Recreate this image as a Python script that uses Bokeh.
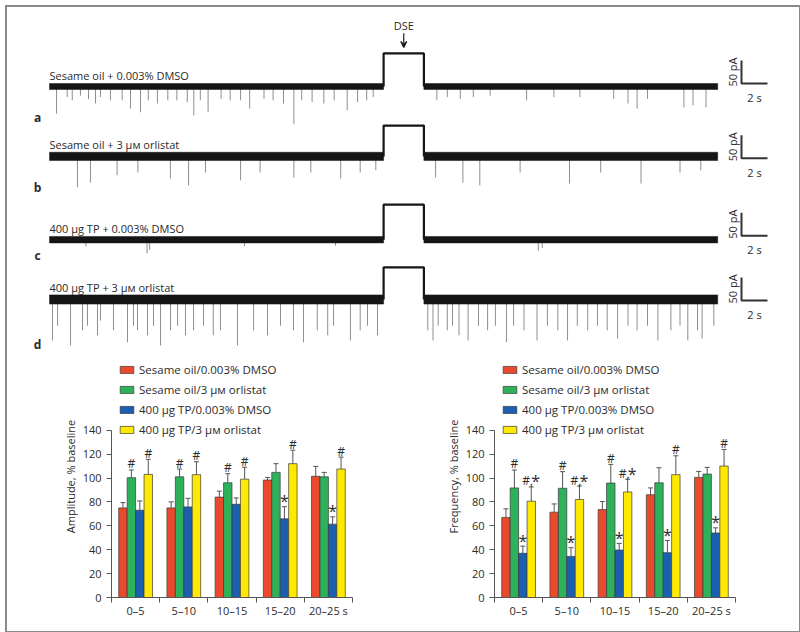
import math
from bokeh.plotting import figure
from bokeh.models import ColumnDataSource, FixedTicker, Whisker, TeeHead, Label, Range1d, Arrow, VeeHead, Div
from bokeh.layouts import column, row
from bokeh.embed import file_html
from bokeh.resources import INLINE
from bokeh.core.properties import value
from bokeh.transform import dodge

FONT = "Open Sans"
TXT = "#2b2b2b"

# ---------------- trace data (time in s, current in pA) ----------------
trace_names = ["Sesame oil + 0.003% DMSO", "Sesame oil + 3 μм orlistat",
               "400 μg TP + 0.003% DMSO", "400 μg TP + 3 μм orlistat"]
panel_letters = ["a", "b", "c", "d"]
pulse_height_pa = [72, 67, 76, 70]
noise_pa = [6.5, 9.0, 7.0, 10.0]
sweep_end_s = 51.4
dse_on_s = 25.7
dse_off_s = 28.8
scale_bar_s = 2
scale_bar_pa = 50

spikes_a_t = [0.54, 1.36, 1.75, 2.38, 3.0, 3.54, 3.92, 4.69, 5.59, 6.23, 7.0, 7.6, 8.3, 9.1, 9.8,
              10.6, 11.1, 11.6, 12.2, 13.2, 13.9, 14.7, 15.4, 16.5, 17.2, 18.0, 18.8, 19.4, 20.2,
              21.1, 21.9, 22.9, 23.7, 24.4, 24.9,
              29.8, 30.6, 31.6, 32.6, 33.9, 36.7, 38.8, 40.8, 43.4, 44.5, 45.2, 46.0, 48.8, 49.5, 50.5]
spikes_a_pa = [59, 23, 30, 20, 27, 37, 23, 30, 30, 48, 56, 30, 37, 30, 30, 34, 63, 30, 56, 27,
               30, 30, 48, 27, 30, 37, 81, 30, 34, 37, 30, 52, 34, 30, 23,
               30, 23, 27, 23, 20, 30, 23, 23, 27, 37, 48, 27, 45, 41, 45]
spikes_b_t = [2.15, 3.15, 5.2, 6.8, 9.3, 10.7, 12.0, 14.7, 16.2, 18.8, 20.1, 22.4, 23.9, 25.1,
              29.7, 31.8, 33.1, 36.2, 40.0, 42.4, 45.5, 48.5, 50.1]
spikes_b_pa = [67, 57, 41, 35, 48, 63, 35, 52, 35, 46, 35, 48, 35, 30,
               46, 57, 63, 35, 59, 35, 59, 35, 30]
spikes_c_t = [2.8, 7.5, 7.7, 15.0, 22.0, 37.6, 37.9]
spikes_c_pa = [15, 30, 22, 14, 13, 24, 18]
spikes_d_t = [0.23, 0.62, 1.62, 2.54, 2.92, 3.69, 3.92, 4.92, 6.0, 6.46, 6.77, 7.54, 8.0, 8.54,
              9.31, 9.85, 10.46, 11.08, 11.85, 12.6, 13.15, 14.46, 15.7, 16.77, 17.77, 18.77,
              19.54, 20.6, 21.4, 21.85, 23.15, 23.9, 24.46, 25.23,
              29.1, 29.5, 29.9, 30.6, 31.0, 31.5, 32.2, 33.0, 33.7, 34.3, 35.15, 35.7, 36.5, 37.5,
              38.3, 39.1, 39.85, 40.6, 41.4, 42.15, 42.9, 43.7, 44.5, 45.2, 46.0, 46.8, 47.8, 48.5,
              49.1, 49.85, 50.2, 51.1]
spikes_d_pa = [89, 57, 100, 67, 57, 78, 46, 67, 93, 57, 67, 78, 57, 100, 67, 57, 78, 67, 57, 78,
               67, 100, 67, 78, 57, 67, 93, 67, 78, 57, 89, 67, 57, 78,
               67, 89, 57, 67, 57, 78, 89, 57, 67, 57, 93, 57, 67, 89, 57, 67, 89, 57, 67, 57,
               67, 85, 57, 67, 57, 89, 67, 57, 89, 67, 85, 57]
spike_times = [spikes_a_t, spikes_b_t, spikes_c_t, spikes_d_t]
spike_amps = [spikes_a_pa, spikes_b_pa, spikes_c_pa, spikes_d_pa]

# ---------------- bar chart data ----------------
intervals = ["0–5", "5–10", "10–15", "15–20", "20–25 s"]
series_names = ["Sesame oil/0.003% DMSO", "Sesame oil/3 μм orlistat",
                "400 μg TP/0.003% DMSO", "400 μg TP/3 μм orlistat"]
series_colors = ["#ea4a2b", "#2db15b", "#1b5fb0", "#ffe900"]

amp_oil_dmso = [75, 75, 84, 98.3, 101.4]
amp_oil_dmso_err = [4.4, 5.0, 5.0, 2.2, 8.3]
amp_oil_orl = [100.3, 101, 96, 104.7, 101]
amp_oil_orl_err = [6.4, 6.5, 7.6, 7.3, 3.7]
amp_tp_dmso = [73, 75.8, 78, 65.8, 61.4]
amp_tp_dmso_err = [7.8, 7.2, 5.3, 10.2, 6.1]
amp_tp_orl = [103, 102.8, 99, 112, 107.5]
amp_tp_orl_err = [12.6, 10.8, 10.0, 11.3, 10.0]
amp_marks_oil_dmso = ["", "", "", "", ""]
amp_marks_oil_orl = ["#", "#", "#", "", ""]
amp_marks_tp_dmso = ["", "", "", "*", "*"]
amp_marks_tp_orl = ["#", "#", "#", "#", "#"]

freq_oil_dmso = [67, 71.4, 73.6, 86, 100.5]
freq_oil_dmso_err = [7.2, 6.9, 6.7, 5.7, 5.0]
freq_oil_orl = [91.7, 91.4, 95.8, 96, 103.3]
freq_oil_orl_err = [15.0, 13.9, 15.6, 12.6, 5.6]
freq_tp_dmso = [37, 34.4, 39.7, 37.5, 54]
freq_tp_dmso_err = [6.0, 7.3, 5.6, 10.3, 4.3]
freq_tp_orl = [80.6, 82, 88.3, 102.8, 110]
freq_tp_orl_err = [11.9, 11.3, 10.7, 15.8, 13.9]
freq_marks_oil_dmso = ["", "", "", "", ""]
freq_marks_oil_orl = ["#", "#", "#", "", ""]
freq_marks_tp_dmso = ["*", "*", "*", "*", "*"]
freq_marks_tp_orl = ["#,*", "#,*", "#,*", "#", "#"]

# ---------------- traces figure ----------------
PX_S = 13.0     # screen px per second
PX_PA = 0.46    # screen px per pA
TOP_H = 352
top = figure(width=800, height=TOP_H,
             x_range=Range1d(-49 / PX_S, 751 / PX_S),
             y_range=Range1d(-(TOP_H - 86) / PX_PA, 86 / PX_PA),
             output_backend="svg", toolbar_location=None,
             x_axis_type=None, y_axis_type=None, min_border=0,
             outline_line_color=None, background_fill_color="white",
             border_fill_color="white")
top.xgrid.visible = False
top.ygrid.visible = False

trace_offsets = [0, -152, -333, -463]
scale_dy = [6.5, -4, 8.7, -2]
letter_y = [-67, -220, -367, -561]
SB_T = 53.23
BLACK = "#151515"

for k in range(4):
    off = trace_offsets[k]
    n = noise_pa[k]
    ts = spike_times[k]
    top.segment(x0=ts, y0=[off] * len(ts), x1=ts, y1=[off - a for a in spike_amps[k]],
                line_color="#8e8e8e", line_width=1)
    top.quad(left=[0, dse_off_s], right=[dse_on_s, sweep_end_s],
             bottom=[off - n, off - n], top=[off + n, off + n],
             fill_color=BLACK, line_color=BLACK, line_width=0.5)
    h = pulse_height_pa[k]
    top.line([dse_on_s, dse_on_s, dse_off_s, dse_off_s], [off, off + h, off + h, off],
             line_color=BLACK, line_width=2.2)
    top.text(x=[0], y=[off + 25], text=[trace_names[k]], text_font=value(FONT),
             text_font_size="11px", text_baseline="alphabetic", text_align="left",
             text_color=TXT)
    top.text(x=[-0.92], y=[letter_y[k]], text=[panel_letters[k]],
             text_font=value(FONT), text_font_size="12px", text_font_style="bold",
             text_baseline="middle", text_align="center", text_color=TXT)
    sb = off + scale_dy[k]
    top.line([SB_T, SB_T, SB_T + scale_bar_s], [sb + scale_bar_pa, sb, sb],
             line_color="#333333", line_width=2)
    top.text(x=[SB_T - 0.72], y=[sb + scale_bar_pa / 2], text=[f"{scale_bar_pa} pA"],
             angle=math.pi / 2, text_font=value(FONT), text_font_size="11px",
             text_baseline="middle", text_align="center", text_color=TXT)
    top.text(x=[SB_T + scale_bar_s / 2], y=[sb - 30], text=[f"{scale_bar_s} s"],
             text_font=value(FONT), text_font_size="11px",
             text_baseline="middle", text_align="center", text_color=TXT)

dse_mid = (dse_on_s + dse_off_s) / 2
top.text(x=[dse_mid], y=[132], text=["DSE"], text_font=value(FONT), text_font_size="11px",
         text_baseline="middle", text_align="center", text_color=TXT)
top.add_layout(Arrow(end=VeeHead(size=6, line_color="#222222", line_width=1.2),
                     x_start=dse_mid, y_start=116, x_end=dse_mid, y_end=85,
                     line_color="#222222", line_width=1.2))

# ---------------- bar charts ----------------
OFFS = [-0.2625, -0.0875, 0.0875, 0.2625]
BW = 0.175
PX_UNIT = 167.3 / 140.0


def split_mark(m):
    """split a significance mark into its hash part and star part"""
    if m == "#,*":
        return "#,", -3.5, "*", 4.5
    if m == "#":
        return "#", 0.0, "", 0.0
    if m == "*":
        return "", 0.0, "*", 0.0
    return "", 0.0, "", 0.0


def bar_chart(vals, errs, marks, ylabel, letter, left, right):
    h, bt, bb = 280, 3, 35
    ytop = (h - bt - bb) / PX_UNIT
    p = figure(width=400, height=h, x_range=Range1d(0, 5), y_range=Range1d(0, ytop),
               output_backend="svg", toolbar_location=None,
               min_border_left=left, min_border_right=right,
               min_border_top=bt, min_border_bottom=bb,
               outline_line_color=None, background_fill_color="white",
               border_fill_color="white")
    p.xgrid.visible = False
    p.ygrid.visible = False
    data = {"x": [i + 0.5 for i in range(len(intervals))]}
    for i in range(4):
        data[f"v{i}"] = vals[i]
        data[f"u{i}"] = [v + e for v, e in zip(vals[i], errs[i])]
        parts = [split_mark(m) for m in marks[i]]
        data[f"h{i}"] = [q[0] for q in parts]
        data[f"hx{i}"] = [q[1] for q in parts]
        data[f"s{i}"] = [q[2] for q in parts]
        data[f"sx{i}"] = [q[3] for q in parts]
    src = ColumnDataSource(data)
    for i in range(4):
        xs = dodge("x", OFFS[i], range=p.x_range)
        p.vbar(x=xs, top=f"v{i}", width=BW, source=src, fill_color=series_colors[i],
               line_color="#3a3a3a", line_width=0.7, legend_label=series_names[i])
        p.add_layout(Whisker(base=xs, lower=f"v{i}", upper=f"u{i}", source=src,
                             lower_head=None,
                             upper_head=TeeHead(size=5, line_color="#555555", line_width=1),
                             line_color="#555555", line_width=1))
        p.text(x=xs, y=f"u{i}", text=f"h{i}", x_offset=f"hx{i}", source=src,
               text_font=value(FONT), text_font_size="12px", text_align="center",
               text_baseline="middle", text_color=TXT, y_offset=-6)
        p.text(x=xs, y=f"u{i}", text=f"s{i}", x_offset=f"sx{i}", source=src,
               text_font=value(FONT), text_font_size="16px", text_align="center",
               text_baseline="middle", text_color=TXT, y_offset=-5.5)
    ax = p.xaxis[0]
    ax.ticker = FixedTicker(ticks=data["x"], minor_ticks=[0, 1, 2, 3, 4, 5])
    ax.major_label_overrides = {x: lab for x, lab in zip(data["x"], intervals)}
    ax.major_tick_out = 0
    ax.major_tick_in = 0
    ax.minor_tick_out = 5
    ax.minor_tick_in = 0
    ax.bounds = (0, 5)
    ax.major_label_standoff = 0
    ay = p.yaxis[0]
    ay.ticker = FixedTicker(ticks=list(range(0, 141, 20)))
    ay.bounds = (0, 140)
    ay.major_tick_out = 5
    ay.major_tick_in = 0
    ay.minor_tick_line_color = None
    ay.axis_label = ylabel
    ay.axis_label_text_font_style = "normal"
    ay.axis_label_standoff = 2
    for a in (ax, ay):
        a.axis_line_color = "#555555"
        a.major_tick_line_color = "#555555"
        a.major_label_text_font = FONT
        a.major_label_text_font_size = "11px"
        a.major_label_text_color = TXT
        a.axis_label_text_font = FONT
        a.axis_label_text_font_size = "11px"
        a.axis_label_text_color = TXT
    ax.minor_tick_line_color = "#555555"
    lg = p.legend[0]
    lg.location = "top_left"
    lg.margin = 0
    lg.padding = 7
    lg.spacing = 5
    lg.glyph_width = 17
    lg.glyph_height = 9
    lg.label_height = 15
    lg.label_standoff = 4
    lg.label_text_font = FONT
    lg.label_text_font_size = "11.5px"
    lg.label_text_color = TXT
    lg.background_fill_alpha = 0
    lg.border_line_alpha = 0
    p.add_layout(Label(x=-0.9, y=-9.2, text=letter, text_font=FONT, text_font_size="12px",
                       text_font_style="bold", text_align="center", text_baseline="middle",
                       text_color=TXT))
    return p


pe = bar_chart([amp_oil_dmso, amp_oil_orl, amp_tp_dmso, amp_tp_orl],
               [amp_oil_dmso_err, amp_oil_orl_err, amp_tp_dmso_err, amp_tp_orl_err],
               [amp_marks_oil_dmso, amp_marks_oil_orl, amp_marks_tp_dmso, amp_marks_tp_orl],
               "Amplitude, % baseline", "e", 111, 48)
pf = bar_chart([freq_oil_dmso, freq_oil_orl, freq_tp_dmso, freq_tp_orl],
               [freq_oil_dmso_err, freq_oil_orl_err, freq_tp_dmso_err, freq_tp_orl_err],
               [freq_marks_oil_dmso, freq_marks_oil_orl, freq_marks_tp_dmso, freq_marks_tp_orl],
               "Frequency, % baseline", "f", 94, 65)

frame_div = Div(text="", width=796, height=628,
                styles={"position": "fixed", "left": "0px", "top": "0px",
                        "border": "2px solid #8a8a8a", "pointer-events": "none",
                        "z-index": "100", "background": "transparent"})

layout = column(top, row(pe, pf), frame_div)
open("out.html", "w").write(file_html(layout, INLINE))
